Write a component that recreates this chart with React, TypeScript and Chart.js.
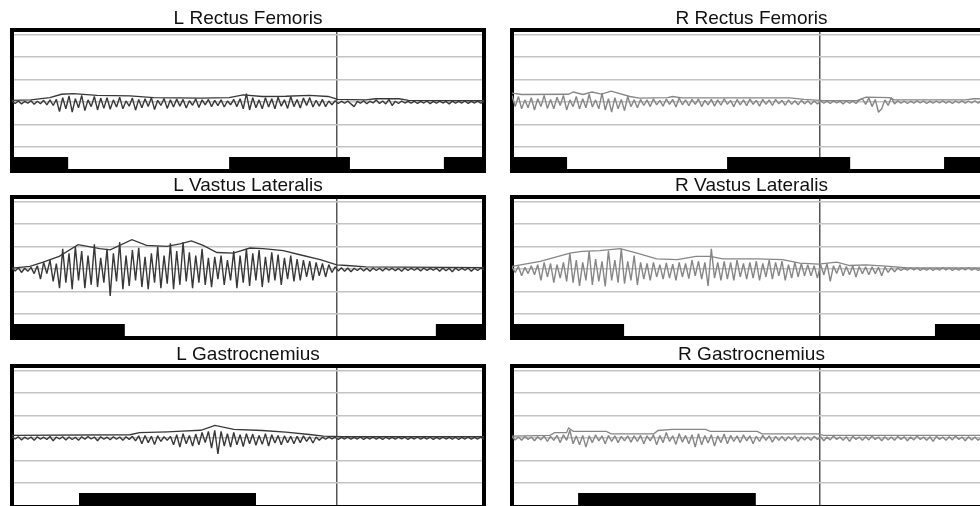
import React, { useEffect, useRef } from "react";
import { Chart, registerables } from "chart.js";

Chart.register(...registerables);

// ---------- data ----------
const GRID_VALUES = [-3, -2, -1, 0, 1, 2, 3];
const Y_MIN = -3.07;
const Y_MAX = 3.2;
const STANCE_LEVEL = -2.45;

const TITLES = [
  "L Rectus Femoris",
  "R Rectus Femoris",
  "L Vastus Lateralis",
  "R Vastus Lateralis",
  "L Gastrocnemius",
  "R Gastrocnemius",
];

const LEFT_MARK = 68.9;
const RIGHT_MARK = 64.3;

// raw EMG (evenly sampled over the cycle)
const L_RF_RAW = [
  0.04, -0.06, 0.05, -0.08, 0.03, -0.05, 0.06, -0.1, 0.04, -0.07, 0.08, -0.12, 0.1, -0.15, 0.12,
  -0.42, 0.2, -0.3, 0.28, -0.45, 0.15, -0.25, 0.3, -0.38, 0.1, -0.2, 0.25, -0.35, 0.18, -0.28,
  0.2, -0.32, 0.1, -0.22, 0.22, -0.3, 0.05, -0.18, 0.18, -0.36, 0.12, -0.25, 0.15, -0.2, 0.2, -0.33, 0.08, -0.15, 0.16, -0.28,
  0.1, -0.22, 0.14, -0.18, 0.12, -0.26, 0.06, -0.14, 0.15, -0.24, 0.1, -0.12, 0.12, -0.2, 0.08, -0.16, 0.1, -0.22, 0.05, -0.12,
  0.12, -0.2, 0.15, -0.3, 0.38, -0.35, 0.2, -0.25, 0.1, -0.3,
  0.2, -0.22, 0.15, -0.3, 0.22, -0.18, 0.1, -0.28, 0.25, -0.2, 0.12, -0.26, 0.18, -0.15, 0.2, -0.22, 0.08, -0.18, 0.12, -0.2, 0.05, -0.12, 0.06,
  -0.06, 0.04, -0.05, 0.05, -0.08, -0.2, 0.03, -0.05, 0.06, -0.07, 0.04, -0.04, 0.1, -0.06, 0.05, -0.08, 0.12, -0.15, 0.04, -0.06,
  0.05, -0.04, 0.03, -0.05, 0.04, -0.06, 0.03, -0.04, 0.05, -0.07, 0.03, -0.05, 0.04, -0.04, 0.03, -0.08, 0.04, -0.05, 0.03, -0.04,
  0.05, -0.06, 0.03, -0.04, 0.04, -0.05, 0.03,
];
const L_RF_ENV = [
  [0, 0.08], [4, 0.1], [8, 0.2], [10.5, 0.35], [13, 0.38], [18, 0.3], [25, 0.28], [30, 0.2], [40, 0.18],
  [46, 0.2], [49, 0.32], [53, 0.25], [58, 0.26], [63, 0.3], [67, 0.25], [69, 0.12], [75, 0.1], [77, 0.15],
  [82, 0.15], [84, 0.08], [100, 0.06],
];
const L_RF_BARS = [[0, 11.9], [46, 71.6], [91.5, 100]];

const R_RF_RAW = [
  0.3, -0.2, 0.25, -0.3, 0.1, -0.25, 0.2, -0.35, 0.15, -0.2, 0.3, -0.28, 0.12, -0.3, 0.22, -0.15, 0.3, -0.35, 0.1, -0.2,
  0.25, -0.3, 0.15, -0.25, 0.35, -0.22, 0.1, -0.3, 0.4, -0.35, 0.15, -0.45, 0.2, -0.3, 0.12, -0.38, 0.25, -0.2, 0.1, -0.25,
  0.12, -0.15, 0.1, -0.2, 0.15, -0.12, 0.08, -0.18, 0.14, -0.1, 0.12, -0.22, 0.18, -0.12, 0.1, -0.16, 0.12, -0.1, 0.14, -0.2,
  0.08, -0.12, 0.12, -0.18, 0.1, -0.14, 0.15, -0.1, 0.08, -0.2, 0.12, -0.12, 0.1, -0.16, 0.14, -0.1, 0.08, -0.18, 0.12, -0.1,
  0.1, -0.15, 0.12, -0.08, 0.08, -0.14, 0.1, -0.1, 0.06, -0.12, 0.08, -0.08, 0.06, -0.1, 0.05, -0.08, 0.05,
  -0.05, 0.04, -0.06, 0.05, -0.04, 0.04, -0.08, 0.05, -0.05, 0.04, -0.06, 0.08,
  0.15, -0.1, 0.18, -0.2, 0.12, -0.45, -0.3, 0.1, -0.15, 0.2, -0.08,
  0.06, -0.05, 0.05, -0.06, 0.04, -0.05, 0.06, -0.04, 0.05, -0.06, 0.04, -0.05, 0.05, -0.04, 0.06,
  -0.05, 0.04, -0.06, 0.05, -0.04, 0.06, -0.05, 0.05, -0.04, 0.06, -0.05, 0.08, -0.06, 0.1, -0.05,
];
const R_RF_ENV = [
  [0, 0.4], [2, 0.34], [11.8, 0.35], [12.8, 0.45], [14.8, 0.34], [16.7, 0.45], [18.7, 0.36], [20.7, 0.49],
  [24.6, 0.25], [26.6, 0.18], [32.5, 0.2], [33.5, 0.25], [35.5, 0.19], [58, 0.19], [61, 0.12], [65, 0.07],
  [72, 0.07], [73.9, 0.22], [78.8, 0.2], [79.8, 0.1], [94.6, 0.1], [96.5, 0.15], [100, 0.15],
];
const R_RF_BARS = [[0, 11.5], [44.9, 70.6], [90.2, 100]];

const L_VL_RAW = [
  0.05, -0.08, 0.06, -0.15, 0.04, -0.1, 0.08, -0.2,
  0.15, -0.45, 0.3, -0.2, 0.4, -0.55, 0.25,
  -0.85, 0.9, -0.6, 0.7, -0.9, 1.0, -0.5, 0.8, -0.85, 0.6, -0.7, 1.1, -0.8, 0.5, -0.6, 0.9, -1.2, 0.7, -0.55, 1.2,
  -0.9, 0.6, -0.75, 0.85, -0.5, 0.95, -0.8, 0.55, -0.9, 0.7, -0.6, 1.0, -0.85, 0.6, -0.65, 1.15, -0.9, 0.8, -0.7, 1.2,
  -0.55, 0.75, -0.85, 0.6, -0.6, 0.9, -0.7, 0.5,
  -0.8, 0.55, -0.45, 0.6, -0.7, 0.4, -0.5,
  0.8, -0.85, 0.6, -0.6, 0.9, -0.75, 0.7, -0.5, 0.85, -0.8, 0.55, -0.6, 0.75, -0.5, 0.65, -0.7, 0.5, -0.45, 0.6, -0.55,
  0.45, -0.5, 0.4, -0.35, 0.35, -0.5, 0.3, -0.3, 0.25, -0.35, 0.2, -0.15, 0.1,
  -0.08, 0.06, -0.1, 0.05, -0.12, 0.04, -0.06, 0.05, -0.08, 0.04, -0.1, 0.05, -0.06, 0.04, -0.08, 0.05,
  -0.05, 0.04, -0.07, 0.03, -0.1, 0.05, -0.06, 0.04, -0.05, 0.04, -0.08, 0.05, -0.06, 0.03, -0.05, 0.04,
  -0.1, 0.05, -0.07, 0.04, -0.12, 0.05, -0.06, 0.04, -0.05, 0.05, -0.1, 0.04, -0.06, 0.05, -0.04,
];
const L_VL_ENV = [
  [0, 0.045], [3.8, 0.12], [6.6, 0.31], [10, 0.57], [14, 1.09], [18.6, 0.91], [20.8, 0.86], [25.4, 1.31],
  [28.5, 1.06], [32.8, 1.01], [35.6, 1.12], [38, 1.26], [40.5, 1.06], [43.4, 0.74], [46.9, 0.71], [50.4, 0.94],
  [53.2, 0.91], [57.5, 0.82], [61, 0.64], [65.3, 0.42], [68.8, 0.19], [70.9, 0.16], [75, 0.1], [100, 0.07],
];
const L_VL_BARS = [[0, 23.9], [89.8, 100]];

const R_VL_RAW = [
  0.1, -0.15, 0.12, -0.3, 0.08, -0.2, 0.15, -0.25,
  0.2, -0.5, 0.3, -0.35, 0.25, -0.6, 0.2, -0.4, 0.3, -0.55,
  0.7, -0.6, 0.4, -0.75, 0.3, -0.5, 0.8, -0.7, 0.45, -0.55, 0.35, -0.77, 0.82, -0.5, 0.4, -0.6, 0.9, -0.65, 0.35, -0.5, 0.6, -0.7,
  0.3, -0.45, 0.25, -0.5, 0.3, -0.35, 0.2, -0.45, 0.28, -0.4, 0.22, -0.5, 0.3, -0.35, 0.25, -0.42, 0.4, -0.3, 0.35, -0.45,
  0.3, -0.75, 0.9, -0.4, 0.3, -0.5,
  0.35, -0.45, 0.3, -0.5, 0.4, -0.35, 0.25, -0.45, 0.3, -0.4, 0.35, -0.5, 0.25, -0.35, 0.4, -0.45, 0.3, -0.3, 0.35, -0.5,
  0.2, -0.4, 0.3, -0.35, 0.25, -0.3,
  0.2, -0.3, 0.15, -0.4, 0.2, -0.25, 0.25, -0.55, 0.15, -0.2, 0.2, -0.3, 0.12, -0.25, 0.15, -0.35, 0.12, -0.2, 0.1, -0.25,
  0.1, -0.2, 0.08, -0.3, 0.1, -0.15, 0.06, -0.12,
  0.05, -0.06, 0.04, -0.05, 0.06, -0.04, 0.05, -0.06, 0.04, -0.05, 0.05, -0.06, 0.04, -0.05, 0.06,
  -0.04, 0.05, -0.06, 0.04, -0.05, 0.05, -0.04, 0.06, -0.05, 0.04, -0.06, 0.05, -0.04, 0.05, -0.06,
];
const R_VL_ENV = [
  [0, 0.12], [5.9, 0.34], [12.1, 0.71], [14.6, 0.79], [18.3, 0.82], [22.6, 0.91], [26.1, 0.71], [30.2, 0.46],
  [34.5, 0.42], [38.4, 0.57], [41.4, 0.57], [44, 0.46], [51.2, 0.46], [56.5, 0.42], [60.1, 0.27], [64, 0.22],
  [67.8, 0.31], [70.5, 0.16], [73.9, 0.19], [78.8, 0.12], [82.7, 0.05], [100, 0.05],
];
const R_VL_BARS = [[0, 23.4], [88.3, 100]];

const L_GA_RAW = [
  0.05, -0.04, 0.06, -0.08, 0.04, -0.05, 0.05, -0.1, 0.06, -0.05, 0.04, -0.06, 0.07, -0.12, 0.05, -0.04, 0.06, -0.08, 0.05, -0.06,
  0.04, -0.1, 0.06, -0.05, 0.07, -0.04, 0.05, -0.12, 0.06, -0.05, 0.04, -0.07, 0.06, -0.05, 0.05, -0.1, 0.06, -0.06, 0.08, -0.12,
  0.1, -0.25, 0.12, -0.2, 0.08, -0.28, 0.1, -0.15, 0.06,
  -0.1, 0.08, -0.3, 0.15, -0.4, 0.2, -0.25, 0.12, -0.35, 0.18, -0.3, 0.25, -0.2, 0.3, -0.45, 0.35, -0.7, 0.3, -0.35, 0.2,
  -0.4, 0.25, -0.3, 0.15, -0.38, 0.2, -0.25, 0.18, -0.32, 0.12, -0.28, 0.2, -0.35, 0.15, -0.22, 0.12, -0.3, 0.1, -0.2, 0.08, -0.25,
  0.08, -0.2, 0.1, -0.15, 0.06, -0.22, 0.05, -0.1, 0.04,
  -0.05, 0.04, -0.03, 0.04, -0.06, 0.03, -0.04, 0.04, -0.05, 0.03, -0.04, 0.05, -0.06, 0.03, -0.04, 0.04, -0.05,
  0.03, -0.06, 0.04, -0.04, 0.03, -0.05, 0.04, -0.03, 0.04, -0.06, 0.03, -0.04, 0.05, -0.05, 0.03, -0.04, 0.04,
  -0.06, 0.03, -0.05, 0.04, -0.04, 0.03, -0.05, 0.04, -0.06, 0.03, -0.04, 0.04, -0.05, 0.03, -0.04, 0.04, -0.05,
];
const L_GA_ENV = [
  [0, 0.12], [25, 0.15], [27, 0.24], [33, 0.28], [36, 0.31], [40, 0.35], [43, 0.57], [47, 0.39],
  [53, 0.34], [58, 0.27], [63, 0.16], [66, 0.09], [70, 0.06], [100, 0.06],
];
const L_GA_BARS = [[14.2, 51.7]];

const R_GA_RAW = [
  0.06, -0.08, 0.05, -0.1, 0.07, -0.06, 0.05, -0.12, 0.06, -0.08, 0.1, -0.15, 0.08, -0.1, 0.12,
  -0.2, 0.15, -0.1, 0.35, -0.25, 0.1, -0.3, 0.12, -0.4, 0.1, -0.2, 0.15, -0.12, 0.1, -0.25, 0.12, -0.15, 0.1, -0.2, 0.08, -0.12, 0.1, -0.18,
  0.1, -0.15, 0.12, -0.25, 0.1, -0.12, 0.15, -0.3, 0.12, -0.2, 0.25, -0.15, 0.1, -0.28, 0.2, -0.18, 0.12, -0.25, 0.15, -0.4, 0.2, -0.3,
  0.12, -0.22, 0.15, -0.35, 0.1, -0.2, 0.18, -0.25, 0.12, -0.15, 0.1, -0.2, 0.15, -0.12, 0.1, -0.25, 0.08, -0.15, 0.12, -0.1, 0.1, -0.18, 0.08,
  -0.1, 0.08, -0.12, 0.06, -0.08, 0.1, -0.15, 0.06, -0.08, 0.05, -0.1, 0.08, -0.06, 0.06, -0.12, 0.05, -0.08, 0.1, -0.06, 0.05,
  -0.1, 0.06, -0.15, 0.08, -0.06, 0.05, -0.1, 0.06, -0.08, 0.1, -0.06, 0.05, -0.12, 0.06, -0.08, 0.05, -0.1, 0.08, -0.06, 0.06,
  -0.12, 0.05, -0.08, 0.1, -0.06, 0.05, -0.1, 0.06, -0.15, 0.08, -0.06, 0.05, -0.1, 0.06, -0.08, 0.1, -0.06, 0.05, -0.12, 0.06,
  -0.08, 0.05, -0.1, 0.08, -0.06, 0.06, -0.1,
];
const R_GA_ENV = [
  [0, 0.09], [7.9, 0.12], [8.9, 0.24], [11.4, 0.24], [11.8, 0.45], [12.8, 0.3], [19.7, 0.3], [20.7, 0.19],
  [29.6, 0.19], [30.5, 0.34], [33.5, 0.39], [40.4, 0.39], [41.4, 0.3], [51.2, 0.3], [52.2, 0.19], [64, 0.19],
  [65, 0.12], [100, 0.12],
];
const R_GA_BARS = [[13.8, 50.9]];

// ---------- layout ----------
const LEFT_COLOR = "#383838";
const RIGHT_COLOR = "#868686";

type PanelDef = {
  title: string;
  raw: number[];
  env: number[][];
  bars: number[][];
  mark: number;
  color: string;
  left: number;
  top: number;
  width: number;
};

const ROW_TOPS = [0, 167, 336];

const PANELS: PanelDef[] = [
  { title: TITLES[0], raw: L_RF_RAW, env: L_RF_ENV, bars: L_RF_BARS, mark: LEFT_MARK, color: LEFT_COLOR, left: 0, top: ROW_TOPS[0], width: 496 },
  { title: TITLES[1], raw: R_RF_RAW, env: R_RF_ENV, bars: R_RF_BARS, mark: RIGHT_MARK, color: RIGHT_COLOR, left: 500, top: ROW_TOPS[0], width: 503 },
  { title: TITLES[2], raw: L_VL_RAW, env: L_VL_ENV, bars: L_VL_BARS, mark: LEFT_MARK, color: LEFT_COLOR, left: 0, top: ROW_TOPS[1], width: 496 },
  { title: TITLES[3], raw: R_VL_RAW, env: R_VL_ENV, bars: R_VL_BARS, mark: RIGHT_MARK, color: RIGHT_COLOR, left: 500, top: ROW_TOPS[1], width: 503 },
  { title: TITLES[4], raw: L_GA_RAW, env: L_GA_ENV, bars: L_GA_BARS, mark: LEFT_MARK, color: LEFT_COLOR, left: 0, top: ROW_TOPS[2], width: 496 },
  { title: TITLES[5], raw: R_GA_RAW, env: R_GA_ENV, bars: R_GA_BARS, mark: RIGHT_MARK, color: RIGHT_COLOR, left: 500, top: ROW_TOPS[2], width: 503 },
];

const CANVAS_H = 174;

function barSteps(bars: number[][]) {
  const pts: { x: number; y: number }[] = [];
  if (bars[0][0] > 0) pts.push({ x: 0, y: Y_MIN });
  bars.forEach(([a, b]) => {
    pts.push({ x: a, y: STANCE_LEVEL });
    pts.push({ x: b, y: Y_MIN });
  });
  if (bars[bars.length - 1][1] < 100) pts.push({ x: 100, y: Y_MIN });
  return pts;
}

function Panel({ def }: { def: PanelDef }) {
  const ref = useRef<HTMLCanvasElement | null>(null);
  useEffect(() => {
    if (!ref.current) return;
    const n = def.raw.length;
    const chart = new Chart(ref.current, {
      type: "line",
      data: {
        datasets: [
          {
            data: def.raw.map((y, i) => ({ x: (i * 100) / (n - 1), y })),
            borderColor: def.color,
            borderWidth: 1.4,
            borderJoinStyle: "bevel",
            pointRadius: 0,
            tension: 0,
            xAxisID: "x",
            yAxisID: "y",
          },
          {
            data: def.env.map(([x, y]) => ({ x, y })),
            borderColor: def.color,
            borderWidth: 1.3,
            pointRadius: 0,
            tension: 0,
            xAxisID: "x",
            yAxisID: "y",
          },
          {
            data: barSteps(def.bars),
            stepped: true,
            borderWidth: 0,
            borderColor: "rgba(0,0,0,0)",
            backgroundColor: "#000",
            fill: "start",
            pointRadius: 0,
            xAxisID: "x",
            yAxisID: "y",
          },
        ],
      },
      options: {
        responsive: false,
        animation: false,
        layout: { padding: { left: 12, right: 12, top: 0, bottom: 3 } },
        plugins: {
          legend: { display: false },
          tooltip: { enabled: false },
          title: {
            display: true,
            text: def.title,
            color: "#111",
            font: { family: "'Liberation Sans', Arial, sans-serif", size: 19, weight: "normal", lineHeight: 1.2 },
            padding: { top: 7.5, bottom: 0 },
          },
        },
        scales: {
          x: {
            type: "linear",
            position: "bottom",
            min: 0,
            max: 100,
            ticks: { display: false },
            grid: { display: false, drawTicks: false, lineWidth: 4 },
            border: { display: true, color: "#000", width: 4 },
          },
          x2: {
            type: "linear",
            position: "top",
            min: 0,
            max: 100,
            afterBuildTicks: (axis: any) => {
              axis.ticks = [{ value: def.mark }];
            },
            ticks: { display: false },
            grid: { display: true, drawTicks: false, color: "#555", lineWidth: 1.5 },
            border: { display: true, color: "#000", width: 4 },
          },
          y: {
            type: "linear",
            position: "left",
            min: Y_MIN,
            max: Y_MAX,
            afterBuildTicks: (axis: any) => {
              axis.ticks = GRID_VALUES.map((v) => ({ value: v }));
            },
            ticks: { display: false },
            grid: { display: true, drawTicks: false, color: "#c4c4c4", lineWidth: 1.5 },
            border: { display: true, color: "#000", width: 4 },
          },
          y2: {
            type: "linear",
            position: "right",
            min: Y_MIN,
            max: Y_MAX,
            ticks: { display: false },
            grid: { display: false, drawTicks: false, lineWidth: 4 },
            border: { display: true, color: "#000", width: 4 },
          },
        },
      } as any,
    });
    return () => chart.destroy();
  }, [def]);
  return (
    <canvas
      ref={ref}
      width={def.width}
      height={CANVAS_H}
      style={{ position: "absolute", left: def.left, top: def.top, width: def.width, height: CANVAS_H, display: "block" }}
    />
  );
}

export default function App() {
  return (
    <div
      style={{
        position: "fixed",
        left: 0,
        top: 0,
        width: 980,
        height: 506,
        overflow: "hidden",
        background: "#fff",
      }}
    >
      {PANELS.map((p) => (
        <Panel key={p.title} def={p} />
      ))}
    </div>
  );
}
